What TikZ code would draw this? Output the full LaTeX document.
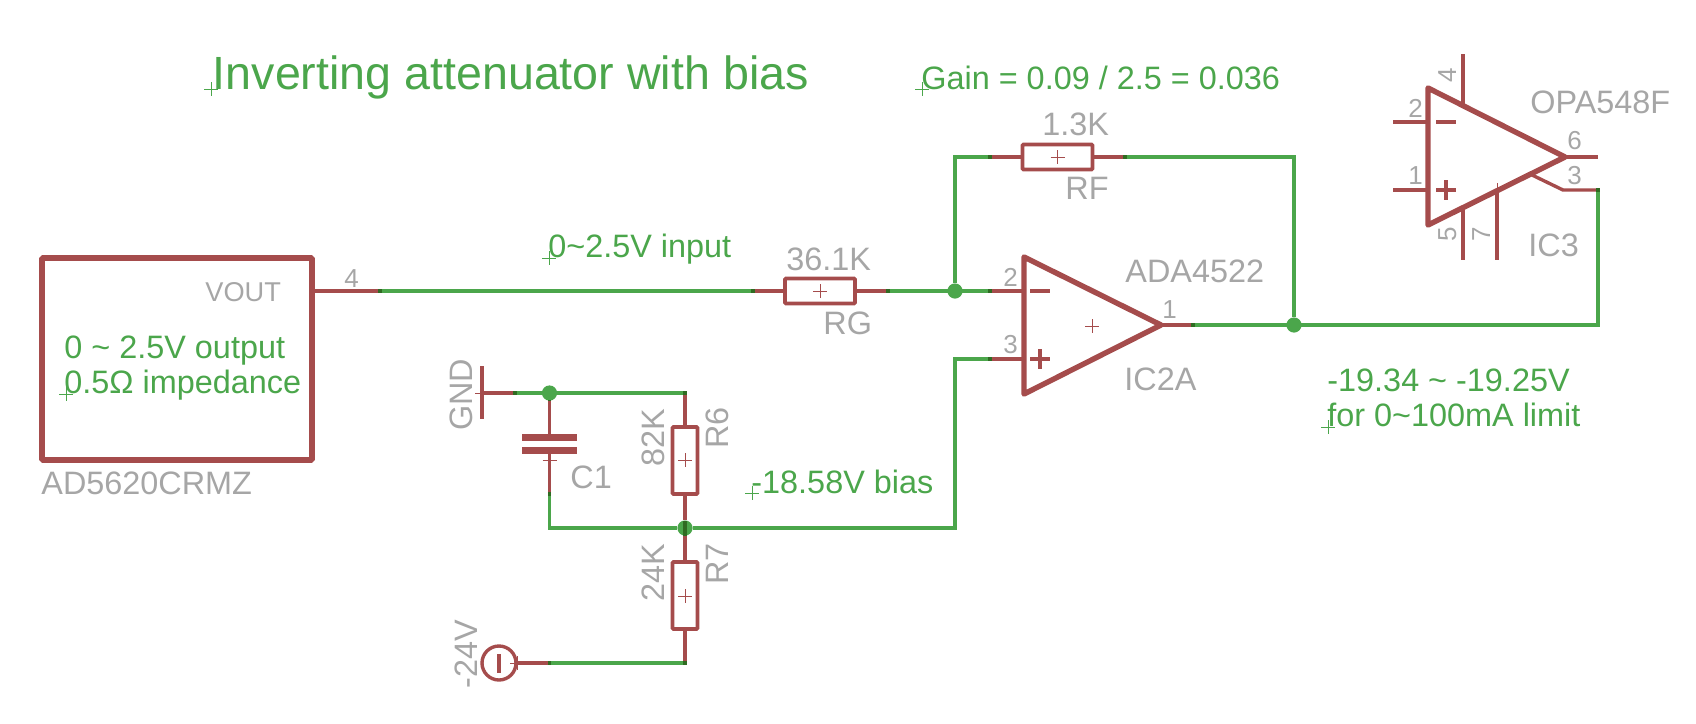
\documentclass[tikz,border=0pt]{standalone}
\usepackage{fontspec}
\setmainfont{Liberation Sans}
\definecolor{sym}{HTML}{A54C4C}
\definecolor{net}{HTML}{4BA64B}
\definecolor{lbl}{HTML}{A6A6A6}
\definecolor{lapc}{HTML}{2F6B22}
\tikzset{wire/.style={draw=net, line width=1.7pt, line join=miter},
        pin/.style={draw=sym, line width=1.7pt},
        amp/.style={draw=sym, line width=2.7pt, line join=round},
        sign/.style={draw=sym, line width=1.8pt},
        tick/.style={line width=0.5pt},
        res/.style={rectangle, draw=sym, line width=1.9pt, rounded corners=0.5pt, outer sep=0pt, inner sep=0pt, minimum width=35pt, minimum height=12.5pt},
        vres/.style={res, minimum width=12.5pt, minimum height=33.5pt},
        chip/.style={rectangle, draw=sym, line width=2.8pt, rounded corners=0.5pt, outer sep=0pt, inner sep=0pt, minimum width=135pt, minimum height=101pt},
        plate/.style={rectangle, fill=sym, outer sep=0pt, inner sep=0pt, minimum width=27.5pt, minimum height=3.4pt},
        dot/.style={circle, fill=net, outer sep=0pt, inner sep=0pt, minimum size=7.6pt},
        lap/.style={rectangle, fill=lapc, outer sep=0pt, inner sep=0pt, minimum size=1.7pt},
        supply/.style={circle, draw=sym, line width=1.7pt, outer sep=0pt, inner sep=0pt, minimum size=17pt},
        gt/.style={text=lbl, anchor=base west, inner sep=0pt, font=\fontsize{16.2pt}{18pt}\selectfont},
        pn/.style={text=lbl, anchor=base west, inner sep=0pt, font=\fontsize{13pt}{15pt}\selectfont},
        nt/.style={text=net, anchor=base west, inner sep=0pt, font=\fontsize{16.2pt}{17.3pt}\selectfont}}

\begin{document}
\begin{tikzpicture}[x=0.5pt, y=-0.5pt]
    \useasboundingbox (0,0) rectangle (1696,723);

    % parts
    \node[chip] (dac) at (177,359) {};
    \node[res] (rg) at (820,291) {};
    \node[res] (rf) at (1057.5,157) {};
    \node[vres] (r6) at (685,460.5) {};
    \node[vres] (r7) at (685,595.5) {};
    \node[plate] (c1a) at (549.5,437.5) {};
    \node[plate] (c1b) at (549.5,450.5) {};
    \node[supply] (neg) at (499,663) {};

    % pin ends
    \coordinate (dacp) at (312,291);
    \coordinate (dacw) at (380,291);
    \coordinate (rgl) at (753,291);
    \coordinate (rgr) at (888,291);
    \coordinate (rfl) at (990,157);
    \coordinate (rfr) at (1125,157);
    \coordinate (u2m) at (990,291);
    \coordinate (u2p) at (990,359);
    \coordinate (u2o) at (1193,325);
    \coordinate (u3w) at (1598,190);
    \coordinate (gnd) at (482,393);
    \coordinate (gndw) at (515,393);
    \coordinate (r6t) at (685,393);
    \coordinate (r7b) at (685,663);
    \coordinate (negw) at (549.5,663);
    \coordinate (c1w) at (549.5,494);

    % nets
    \node[dot] (j1) at (955,291) {};
    \node[dot] (j2) at (1294,325) {};
    \node[dot] (j3) at (549.5,393) {};
    \node[dot] (j4) at (685,528) {};
    \draw[wire] (dacw) -- (rgl);
    \draw[wire] (rgr) -- (u2m);
    \draw[wire] (j1) |- (rfl);
    \draw[wire] (rfr) -| (j2);
    \draw[wire] (u2o) -| (u3w);
    \draw[wire] (gndw) -- (r6t);
    \draw[wire] (negw) -- (r7b);
    \draw[wire] (c1w) |- (j4);
    \draw[wire] (j4) -| (955,359) -- (u2p);

    % pins
    \draw[pin] (dacp) -- (dacw);
    \draw[pin] (rgl) -- (rg);
    \draw[pin] (rg) -- (rgr);
    \draw[pin] (rfl) -- (rf);
    \draw[pin] (rf) -- (rfr);
    \draw[pin] (r6t) -- (r6);
    \draw[pin] (r6) -- (j4);
    \draw[pin] (j4) -- (r7);
    \draw[pin] (r7) -- (r7b);
    \draw[pin] (j3) -- (c1a);
    \draw[pin] (c1b) -- (c1w);
    \draw[pin] (gnd) -- (gndw);
    \draw[pin] (neg) -- (negw);

    % first op amp
    \coordinate (u2a) at (1024,257);
    \coordinate (u2b) at (1024,394);
    \coordinate (u2c) at (1161,325);
    \draw[amp] (u2a) -- (u2b) -- (u2c) -- cycle;
    \draw[pin] (u2m) -- (1024,291);
    \draw[pin] (u2p) -- (1024,359);
    \draw[pin] (u2c) -- (u2o);
    \draw[sign] (1030,291) -- (1050,291);
    \draw[sign] (1030,359) -- (1050,359) (1040,349) -- (1040,369);

    % second op amp
    \coordinate (u3a) at (1428,88);
    \coordinate (u3b) at (1428,225);
    \coordinate (u3c) at (1565,157);
    \draw[amp] (u3a) -- (u3b) -- (u3c) -- cycle;
    \draw[pin] (1393,122) -- (1428,122);
    \draw[pin] (1393,190) -- (1428,190);
    \draw[pin] (1463,54) -- (1463,105);
    \draw[pin] (1463,208) -- (1463,260);
    \draw[pin] (1497,190) -- (1497,260);
    \draw[tick, draw=sym] (1497,183) -- (1497,192);
    \draw[pin] (u3c) -- (1598,157);
    \draw[pin] (1532,175) -- (1563,190) -- (u3w);
    \draw[sign] (1436,122) -- (1456,122);
    \draw[sign] (1436,190) -- (1456,190) (1446,180) -- (1446,200);

    % ground bar and the mark inside the supply
    \draw[pin] (482,366) -- (482,419);
    \draw[pin] (499,654) -- (499,673);

    % where pins and wires overlap
    \foreach \c in {dacw,rgl,rgr,rfl,rfr,u2m,u2p,u2o,u3w,gndw,r6t,r7b,negw,c1w} {
        \node[lap] (lap\c) at (\c) {};
    }
    \draw[pin, draw=lapc] (j3) -- (549.5,400);
    \draw[pin, draw=lapc] (685,520.5) -- (685,535.5);

    % origin marks
    \foreach \x/\y in {1057.5/157,820/291,1092/326,685/460,685/596,549.5/460,482/393,517/663} {
        \draw[tick, draw=sym] (\x-7,\y) -- (\x+7,\y) (\x,\y-7) -- (\x,\y+7);
    }
    \foreach \x/\y in {211/89,922/89,549/258,752/493,1328/427,66/394} {
        \draw[tick, draw=net] (\x-7,\y) -- (\x+7,\y) (\x,\y-7) -- (\x,\y+7);
    }

    % notes
    \node[nt, font=\fontsize{23.3pt}{26pt}\selectfont] (title) at (212.5,89) {Inverting attenuator with bias};
    \node[nt] (gain) at (921,89) {Gain = 0.09 / 2.5 = 0.036};
    \node[nt] (inp) at (548,257) {0\textasciitilde 2.5V input};
    \node[nt] (bias) at (751,493) {-18.58V bias};
    \node[nt, align=left] (lim) at (1327,426) {-19.34 \textasciitilde{} -19.25V\\for 0\textasciitilde 100mA limit};
    \node[nt, align=left] (dacn) at (64,393) {0 \textasciitilde{} 2.5V output\\0.5Ω impedance};

    % labels
    \node[gt, font=\fontsize{13.6pt}{15pt}\selectfont] (vout) at (205,301) {VOUT};
    \node[gt] (dacl) at (41,494) {AD5620CRMZ};
    \node[gt] (rgv) at (786,270) {36.1K};
    \node[gt] (rgn) at (823,334) {RG};
    \node[gt] (rfv) at (1042,135) {1.3K};
    \node[gt] (rfn) at (1065,199) {RF};
    \node[gt] (u2v) at (1125,282) {ADA4522};
    \node[gt] (u2n) at (1124,390) {IC2A};
    \node[gt] (u3v) at (1530,113) {OPA548F};
    \node[gt] (u3n) at (1528,256) {IC3};
    \node[gt] (c1n) at (570,488) {C1};
    \node[gt, rotate=90] (gndn) at (472,431) {GND};
    \node[gt, rotate=90] (r6v) at (664,467) {82K};
    \node[gt, rotate=90] (r6n) at (728,449) {R6};
    \node[gt, rotate=90] (r7v) at (664,602) {24K};
    \node[gt, rotate=90] (r7n) at (728,585) {R7};
    \node[gt, rotate=90] (negn) at (477,689) {-24V};

    % pin numbers
    \foreach \n/\t/\x/\y in {p4/4/344/287,p2/2/1003/286,p3/3/1003/353,p1/1/1162/318,q2/2/1408/117,q1/1/1408/184,q6/6/1567/149,q3/3/1567/184} {
        \node[pn] (\n) at (\x,\y) {\t};
    }
    \foreach \n/\t/\x/\y in {q4/4/1456/83,q5/5/1456/242,q7/7/1490/242} {
        \node[pn, rotate=90] (\n) at (\x,\y) {\t};
    }
\end{tikzpicture}
\end{document}
